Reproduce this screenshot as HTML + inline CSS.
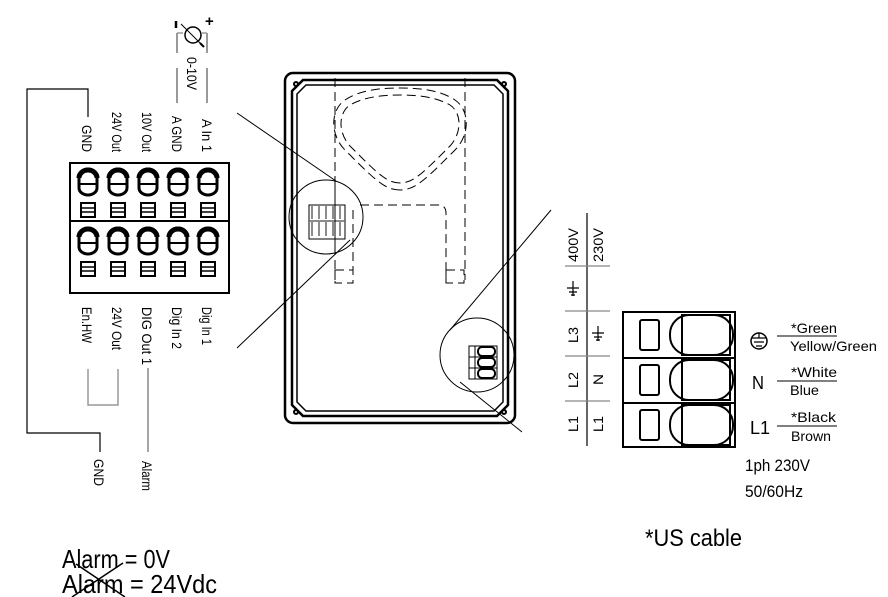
<!DOCTYPE html>
<html><head><meta charset="utf-8"><style>
html,body{margin:0;padding:0;background:#fff;}
svg{display:block;}
text{font-family:"Liberation Sans",sans-serif;fill:#000;}
</style></head><body>
<svg width="888" height="597" viewBox="0 0 888 597" xmlns="http://www.w3.org/2000/svg">
<defs>
<g id="term">
 <path d="M-9,8 L-9,-2 A9,9 0 0 1 9,-2 L9,8 A9,7 0 0 1 -9,8 Z" fill="none" stroke="#000" stroke-width="3"/>
 <path d="M-9,-2 A9,8 0 0 1 9,-2" fill="none" stroke="#000" stroke-width="5"/>
 <line x1="-9" y1="4" x2="9" y2="4" stroke="#000" stroke-width="2"/>
 <rect x="-7" y="23" width="14" height="14" fill="none" stroke="#000" stroke-width="2"/>
 <line x1="-7" y1="28" x2="7" y2="28" stroke="#000" stroke-width="1.5"/>
 <line x1="-7" y1="32" x2="7" y2="32" stroke="#000" stroke-width="1.5"/>
</g>
<g id="bigrow">
 <rect x="640" y="0" width="19" height="30" rx="2" fill="none" stroke="#000" stroke-width="2"/>
 <rect x="670" y="-5" width="63" height="40" rx="19" fill="none" stroke="#000" stroke-width="2"/>
 <rect x="682" y="-5" width="48" height="40" fill="none" stroke="#000" stroke-width="2"/>
</g>
</defs>

<!-- sensor -->
<circle cx="193" cy="35" r="8" fill="none" stroke="#000" stroke-width="1.5"/>
<line x1="181" y1="24" x2="203" y2="46" stroke="#000" stroke-width="1"/>
<line x1="200" y1="43" x2="204" y2="47" stroke="#000" stroke-width="2"/>
<line x1="176" y1="21" x2="176" y2="28" stroke="#000" stroke-width="2.5"/>
<text x="205" y="26" font-size="15" font-weight="bold">+</text>
<path d="M177,33 V53 M177,68 V103 M207,33 V53 M207,68 V103" stroke="#999" stroke-width="2" fill="none"/>
<path d="M177,33 H183 M207,33 H201" stroke="#999" stroke-width="1.5"/>
<text transform="translate(187,57) rotate(90)" font-size="14" textLength="33" lengthAdjust="spacingAndGlyphs">0-10V</text>

<!-- top labels -->
<g font-size="14">
<text transform="translate(82,152) rotate(90)" text-anchor="end" textLength="27" lengthAdjust="spacingAndGlyphs">GND</text>
<text transform="translate(112,152) rotate(90)" text-anchor="end" textLength="40" lengthAdjust="spacingAndGlyphs">24V Out</text>
<text transform="translate(142,152) rotate(90)" text-anchor="end" textLength="40" lengthAdjust="spacingAndGlyphs">10V Out</text>
<text transform="translate(172,152) rotate(90)" text-anchor="end" textLength="36" lengthAdjust="spacingAndGlyphs">A GND</text>
<text transform="translate(202,152) rotate(90)" text-anchor="end" textLength="33" lengthAdjust="spacingAndGlyphs">A In 1</text>
<text transform="translate(82,307) rotate(90)" textLength="36" lengthAdjust="spacingAndGlyphs">En.HW</text>
<text transform="translate(112,307) rotate(90)" textLength="43" lengthAdjust="spacingAndGlyphs">24V Out</text>
<text transform="translate(142,307) rotate(90)" textLength="58" lengthAdjust="spacingAndGlyphs">DIG Out 1</text>
<text transform="translate(172,307) rotate(90)" textLength="42" lengthAdjust="spacingAndGlyphs">Dig In 2</text>
<text transform="translate(202,307) rotate(90)" textLength="38" lengthAdjust="spacingAndGlyphs">Dig In 1</text>
<text transform="translate(94,459) rotate(90)" textLength="27" lengthAdjust="spacingAndGlyphs">GND</text>
<text transform="translate(142,461) rotate(90)" textLength="30" lengthAdjust="spacingAndGlyphs">Alarm</text>
</g>

<!-- wires -->
<path d="M88,117 V89 H27 V433 H100 V452" fill="none" stroke="#000" stroke-width="1.2"/>
<path d="M88,369 V405 H118 V369" fill="none" stroke="#999" stroke-width="1.5"/>
<line x1="148" y1="368" x2="148" y2="452" stroke="#888" stroke-width="1.5"/>

<!-- terminal block -->
<rect x="70" y="163" width="159" height="130" fill="none" stroke="#000" stroke-width="2"/>
<line x1="70" y1="221" x2="229" y2="221" stroke="#000" stroke-width="2"/>
<g>
<use href="#term" x="88" y="180"/><use href="#term" x="118" y="180"/><use href="#term" x="148" y="180"/><use href="#term" x="178" y="180"/><use href="#term" x="208" y="180"/>
<use href="#term" x="88" y="239"/><use href="#term" x="118" y="239"/><use href="#term" x="148" y="239"/><use href="#term" x="178" y="239"/><use href="#term" x="208" y="239"/>
</g>

<!-- enclosure -->
<rect x="285" y="73" width="230" height="350" rx="8" fill="none" stroke="#000" stroke-width="2.5"/>
<path d="M303,80 H497 L508,91 V405 L497,416 H303 L292,405 V91 Z" fill="none" stroke="#000" stroke-width="2.5"/>
<path d="M306,85 H494 L503,94 V402 L494,411 H306 L297,402 V94 Z" fill="none" stroke="#000" stroke-width="1.5"/>
<g fill="none" stroke="#000" stroke-width="2">
<circle cx="296" cy="84" r="2"/><circle cx="504" cy="84" r="2"/><circle cx="296" cy="412" r="2"/><circle cx="504" cy="412" r="2"/>
</g>
<g fill="none" stroke="#000" stroke-width="1" stroke-dasharray="9,5">
<line x1="335" y1="78" x2="335" y2="280"/>
<line x1="465" y1="78" x2="465" y2="280"/>
<path d="M400,190 C385,190 375,180 345,150 C330,135 330,110 345,100 C360,90 380,88 400,88 C420,88 440,90 455,100 C470,110 470,135 455,150 C425,180 415,190 400,190 Z"/>
<path d="M400,183 C387,183 378,174 350,146 C338,133 338,113 350,105 C364,97 382,95 400,95 C418,95 436,97 450,105 C462,113 462,133 450,146 C422,174 413,183 400,183 Z"/>
<path d="M360,205 H438 Q446,205 446,213 V282"/>
<line x1="353" y1="210" x2="353" y2="282"/>
<rect x="335" y="270" width="18" height="13"/>
<rect x="446" y="270" width="18" height="13"/>
</g>
<circle cx="326" cy="217" r="37" fill="none" stroke="#000" stroke-width="1"/>
<rect x="309" y="205" width="36" height="34" fill="#fff" stroke="#000" stroke-width="1"/>
<path d="M309,221 H345 M312,206 V219 M319,206 V219 M326,206 V219 M333,206 V219 M340,206 V219 M312,222 V236 M319,222 V236 M326,222 V236 M333,222 V236 M340,222 V236" stroke="#666" stroke-width="1.5"/>
<line x1="335" y1="180" x2="335" y2="250" stroke="#000" stroke-width="1"/>
<line x1="237" y1="113" x2="336" y2="181" stroke="#000" stroke-width="1"/>
<line x1="237" y1="348" x2="350" y2="240" stroke="#000" stroke-width="1"/>
<circle cx="477" cy="355" r="37" fill="none" stroke="#000" stroke-width="1"/>
<rect x="469" y="346" width="28" height="33" fill="#fff" stroke="#000" stroke-width="1"/>
<path d="M469,357 H497 M469,368 H497 M475,346 V379" stroke="#000" stroke-width="1"/>
<g fill="none" stroke="#000" stroke-width="2"><rect x="478" y="347" width="17" height="9" rx="4"/><rect x="478" y="358" width="17" height="9" rx="4"/><rect x="478" y="369" width="17" height="9" rx="4"/></g>
<line x1="551" y1="210" x2="450" y2="330" stroke="#000" stroke-width="1"/>
<line x1="460" y1="382" x2="522" y2="432" stroke="#000" stroke-width="1"/>

<!-- voltage table -->
<line x1="587" y1="213" x2="587" y2="446" stroke="#000" stroke-width="1.2"/>
<path d="M565,266 H610 M565,311 H610 M565,356 H610 M565,401 H610" stroke="#888" stroke-width="1.2"/>
<g font-size="14">
<text transform="translate(578,262) rotate(-90)" textLength="34" lengthAdjust="spacingAndGlyphs">400V</text>
<text transform="translate(603,262) rotate(-90)" textLength="34" lengthAdjust="spacingAndGlyphs">230V</text>
<text transform="translate(578,343) rotate(-90)" textLength="16" lengthAdjust="spacingAndGlyphs">L3</text>
<text transform="translate(578,388) rotate(-90)" textLength="16" lengthAdjust="spacingAndGlyphs">L2</text>
<text transform="translate(578,432) rotate(-90)" textLength="16" lengthAdjust="spacingAndGlyphs">L1</text>
<text transform="translate(603,385) rotate(-90)" textLength="11" lengthAdjust="spacingAndGlyphs">N</text>
<text transform="translate(603,432) rotate(-90)" textLength="16" lengthAdjust="spacingAndGlyphs">L1</text>
</g>
<path d="M573,281 V296 M567,288 H579 M569,292 H577 M571,295 H575" stroke="#000" stroke-width="1.2"/>
<path d="M598,326 V341 M592,333 H604 M594,337 H602 M596,340 H600" stroke="#000" stroke-width="1.2"/>

<!-- big terminal -->
<rect x="623" y="312" width="112" height="135" fill="none" stroke="#000" stroke-width="2"/>
<path d="M623,358 H735 M623,403 H735" stroke="#000" stroke-width="2"/>
<use href="#bigrow" y="320"/><use href="#bigrow" y="365"/><use href="#bigrow" y="410"/>

<circle cx="759" cy="341" r="8" fill="none" stroke="#000" stroke-width="1.5"/>
<path d="M752,338 H766 M754,342 H764 M756,346 H762 M759,333 V338" stroke="#000" stroke-width="1.2"/>
<g font-size="14">
<text x="791" y="333" textLength="46" lengthAdjust="spacingAndGlyphs">*Green</text>
<text x="790" y="351" textLength="87" lengthAdjust="spacingAndGlyphs">Yellow/Green</text>
<text x="791" y="377" textLength="46" lengthAdjust="spacingAndGlyphs">*White</text>
<text x="790" y="395" textLength="29" lengthAdjust="spacingAndGlyphs">Blue</text>
<text x="791" y="422" textLength="45" lengthAdjust="spacingAndGlyphs">*Black</text>
<text x="791" y="441" textLength="40" lengthAdjust="spacingAndGlyphs">Brown</text>
</g>
<path d="M777,336 H837 M777,381 H837 M777,426 H837" stroke="#000" stroke-width="1"/>
<text x="752" y="389" font-size="18" textLength="12" lengthAdjust="spacingAndGlyphs">N</text>
<text x="750" y="434" font-size="18" textLength="20" lengthAdjust="spacingAndGlyphs">L1</text>
<text x="745" y="471" font-size="17" textLength="65" lengthAdjust="spacingAndGlyphs">1ph 230V</text>
<text x="745" y="497" font-size="17" textLength="58" lengthAdjust="spacingAndGlyphs">50/60Hz</text>

<text x="645" y="546" font-size="24" textLength="97" lengthAdjust="spacingAndGlyphs">*US cable</text>
<text x="62" y="568" font-size="26" textLength="108" lengthAdjust="spacingAndGlyphs">Alarm = 0V</text>
<text x="62" y="593" font-size="26" textLength="155" lengthAdjust="spacingAndGlyphs">Alarm = 24Vdc</text>
<path d="M72,597 L123,563 M76,564 L125,597" stroke="#000" stroke-width="1.5"/>
</svg>
</body></html>
